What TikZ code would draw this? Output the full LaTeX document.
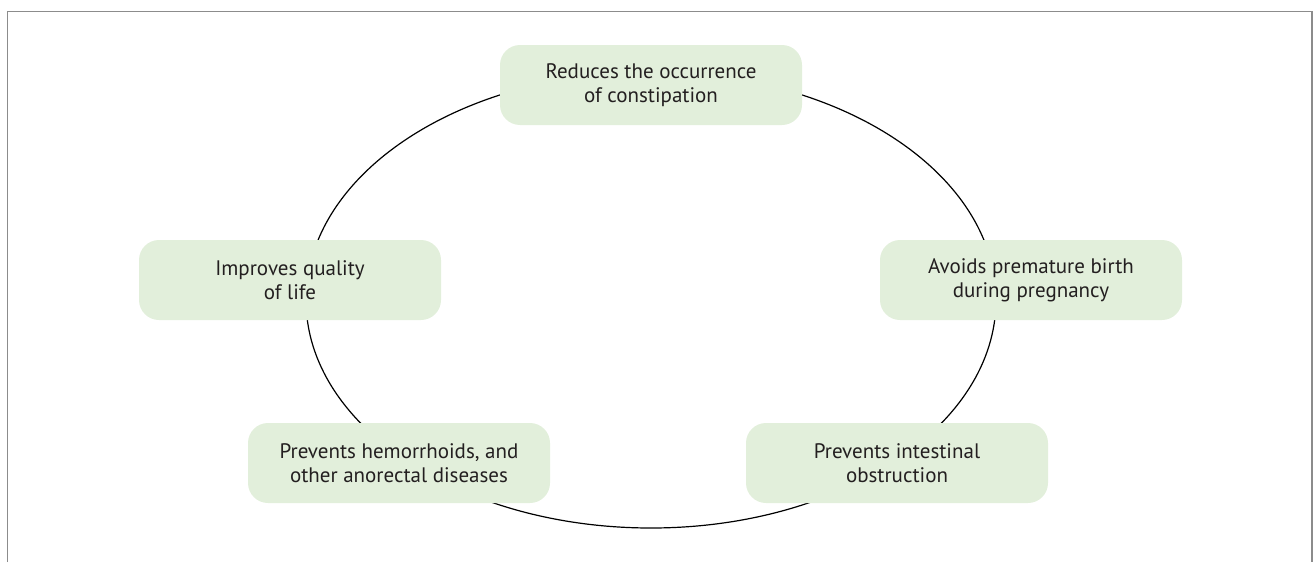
\documentclass[tikz,border=0pt]{standalone}
\usepackage{fontspec}
\setmainfont{PT Sans}
\definecolor{boxfill}{HTML}{E2EFDB}
\definecolor{textgray}{HTML}{231F20}
\definecolor{framegray}{HTML}{8C8C8C}
\begin{document}
\begin{tikzpicture}[x=1pt,y=-1pt,
  benefit/.style={rectangle, rounded corners=20pt, fill=boxfill, draw=none,
    minimum width=302pt, minimum height=80pt, align=center,
    text=textgray, font=\fontsize{21}{24}\selectfont, inner sep=0pt}]
  \useasboundingbox (0,0) rectangle (1313,562);
  % open frame
  \draw[framegray, line width=1.6pt] (7.5,562) -- (7.5,11.5) -- (1312,11.5) -- (1312,562);
  % cycle
  \draw[black, line width=1.2pt] (651,300) ellipse [x radius=345pt, y radius=228pt];
  % benefits around the cycle
  \node[benefit] (top) at (651,85) {Reduces the occurrence\\of constipation};
  \node[benefit] (left) at (290,280) {Improves quality\\of life};
  \node[benefit] (right) at (1031,280) {Avoids premature birth\\during pregnancy};
  \node[benefit] (botleft) at (399,463) {Prevents hemorrhoids, and\\other anorectal diseases};
  \node[benefit] (botright) at (897,463) {Prevents intestinal\\obstruction};
\end{tikzpicture}
\end{document}
